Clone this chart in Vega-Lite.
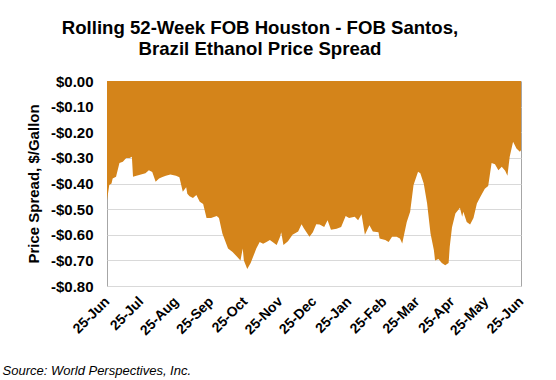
{
  "$schema": "https://vega.github.io/schema/vega-lite/v6.json",
  "width": 414,
  "height": 205,
  "autosize": {"type": "none"},
  "padding": {"left": 107, "top": 81, "right": 35, "bottom": 94},
  "background": "white",
  "title": {
    "text": ["Rolling 52-Week FOB Houston - FOB Santos,", "Brazil Ethanol Price Spread"],
    "font": "Liberation Sans",
    "fontSize": 18.6,
    "fontWeight": "bold",
    "color": "#000000",
    "anchor": "middle",
    "dx": -54,
    "lineHeight": 21,
    "offset": 15
  },
  "data": {
    "values": [
      {"date": "2019-06-25", "spread": -0.465},
      {"date": "2019-06-27", "spread": -0.406},
      {"date": "2019-06-29", "spread": -0.40},
      {"date": "2019-06-30", "spread": -0.38},
      {"date": "2019-07-03", "spread": -0.374},
      {"date": "2019-07-06", "spread": -0.32},
      {"date": "2019-07-09", "spread": -0.315},
      {"date": "2019-07-12", "spread": -0.30},
      {"date": "2019-07-15", "spread": -0.30},
      {"date": "2019-07-17", "spread": -0.296},
      {"date": "2019-07-18", "spread": -0.374},
      {"date": "2019-07-21", "spread": -0.37},
      {"date": "2019-07-25", "spread": -0.365},
      {"date": "2019-07-29", "spread": -0.36},
      {"date": "2019-08-01", "spread": -0.348},
      {"date": "2019-08-04", "spread": -0.355},
      {"date": "2019-08-07", "spread": -0.393},
      {"date": "2019-08-10", "spread": -0.38},
      {"date": "2019-08-13", "spread": -0.375},
      {"date": "2019-08-16", "spread": -0.37},
      {"date": "2019-08-20", "spread": -0.365},
      {"date": "2019-08-25", "spread": -0.37},
      {"date": "2019-08-28", "spread": -0.376},
      {"date": "2019-08-31", "spread": -0.432},
      {"date": "2019-09-03", "spread": -0.415},
      {"date": "2019-09-04", "spread": -0.44},
      {"date": "2019-09-06", "spread": -0.45},
      {"date": "2019-09-09", "spread": -0.457},
      {"date": "2019-09-12", "spread": -0.445},
      {"date": "2019-09-15", "spread": -0.471},
      {"date": "2019-09-18", "spread": -0.48},
      {"date": "2019-09-21", "spread": -0.535},
      {"date": "2019-09-25", "spread": -0.535},
      {"date": "2019-09-30", "spread": -0.527},
      {"date": "2019-10-02", "spread": -0.535},
      {"date": "2019-10-05", "spread": -0.595},
      {"date": "2019-10-10", "spread": -0.654},
      {"date": "2019-10-14", "spread": -0.667},
      {"date": "2019-10-18", "spread": -0.686},
      {"date": "2019-10-21", "spread": -0.70},
      {"date": "2019-10-23", "spread": -0.654},
      {"date": "2019-10-24", "spread": -0.70},
      {"date": "2019-10-27", "spread": -0.734},
      {"date": "2019-10-30", "spread": -0.71},
      {"date": "2019-11-04", "spread": -0.654},
      {"date": "2019-11-07", "spread": -0.628},
      {"date": "2019-11-10", "spread": -0.635},
      {"date": "2019-11-13", "spread": -0.628},
      {"date": "2019-11-16", "spread": -0.62},
      {"date": "2019-11-19", "spread": -0.63},
      {"date": "2019-11-22", "spread": -0.64},
      {"date": "2019-11-25", "spread": -0.608},
      {"date": "2019-11-26", "spread": -0.59},
      {"date": "2019-11-28", "spread": -0.64},
      {"date": "2019-12-02", "spread": -0.625},
      {"date": "2019-12-06", "spread": -0.60},
      {"date": "2019-12-11", "spread": -0.587},
      {"date": "2019-12-14", "spread": -0.559},
      {"date": "2019-12-16", "spread": -0.575},
      {"date": "2019-12-21", "spread": -0.608},
      {"date": "2019-12-24", "spread": -0.59},
      {"date": "2019-12-27", "spread": -0.559},
      {"date": "2019-12-30", "spread": -0.56},
      {"date": "2020-01-03", "spread": -0.57},
      {"date": "2020-01-06", "spread": -0.543},
      {"date": "2020-01-09", "spread": -0.58},
      {"date": "2020-01-14", "spread": -0.577},
      {"date": "2020-01-18", "spread": -0.57},
      {"date": "2020-01-22", "spread": -0.527},
      {"date": "2020-01-25", "spread": -0.535},
      {"date": "2020-01-30", "spread": -0.53},
      {"date": "2020-02-02", "spread": -0.543},
      {"date": "2020-02-05", "spread": -0.52},
      {"date": "2020-02-08", "spread": -0.60},
      {"date": "2020-02-12", "spread": -0.563},
      {"date": "2020-02-15", "spread": -0.587},
      {"date": "2020-02-20", "spread": -0.59},
      {"date": "2020-02-21", "spread": -0.615},
      {"date": "2020-02-26", "spread": -0.62},
      {"date": "2020-02-29", "spread": -0.628},
      {"date": "2020-03-03", "spread": -0.608},
      {"date": "2020-03-07", "spread": -0.608},
      {"date": "2020-03-10", "spread": -0.615},
      {"date": "2020-03-12", "spread": -0.634},
      {"date": "2020-03-16", "spread": -0.55},
      {"date": "2020-03-19", "spread": -0.51},
      {"date": "2020-03-22", "spread": -0.406},
      {"date": "2020-03-25", "spread": -0.367},
      {"date": "2020-03-26", "spread": -0.354},
      {"date": "2020-03-28", "spread": -0.36},
      {"date": "2020-03-31", "spread": -0.40},
      {"date": "2020-04-03", "spread": -0.478},
      {"date": "2020-04-06", "spread": -0.595},
      {"date": "2020-04-09", "spread": -0.66},
      {"date": "2020-04-10", "spread": -0.70},
      {"date": "2020-04-13", "spread": -0.695},
      {"date": "2020-04-16", "spread": -0.71},
      {"date": "2020-04-19", "spread": -0.719},
      {"date": "2020-04-22", "spread": -0.71},
      {"date": "2020-04-23", "spread": -0.647},
      {"date": "2020-04-25", "spread": -0.571},
      {"date": "2020-04-28", "spread": -0.517},
      {"date": "2020-05-01", "spread": -0.50},
      {"date": "2020-05-02", "spread": -0.495},
      {"date": "2020-05-04", "spread": -0.53},
      {"date": "2020-05-05", "spread": -0.51},
      {"date": "2020-05-08", "spread": -0.55},
      {"date": "2020-05-11", "spread": -0.56},
      {"date": "2020-05-14", "spread": -0.535},
      {"date": "2020-05-17", "spread": -0.478},
      {"date": "2020-05-20", "spread": -0.453},
      {"date": "2020-05-24", "spread": -0.42},
      {"date": "2020-05-27", "spread": -0.41},
      {"date": "2020-05-30", "spread": -0.32},
      {"date": "2020-06-02", "spread": -0.325},
      {"date": "2020-06-05", "spread": -0.348},
      {"date": "2020-06-08", "spread": -0.335},
      {"date": "2020-06-11", "spread": -0.35},
      {"date": "2020-06-13", "spread": -0.37},
      {"date": "2020-06-15", "spread": -0.296},
      {"date": "2020-06-18", "spread": -0.237},
      {"date": "2020-06-21", "spread": -0.263},
      {"date": "2020-06-24", "spread": -0.276},
      {"date": "2020-06-25", "spread": -0.27}
    ]
  },
  "mark": {"type": "area", "color": "#D4841A", "interpolate": "linear"},
  "encoding": {
    "x": {
      "field": "date",
      "type": "temporal",
      "scale": {
        "type": "utc",
        "domain": [{"year": 2019, "month": 6, "date": 25, "utc": true}, {"year": 2020, "month": 6, "date": 25, "utc": true}],
        "nice": false
      },
      "axis": {
        "values": [
          {"year": 2019, "month": 6, "date": 25, "utc": true},
          {"year": 2019, "month": 7, "date": 25, "utc": true},
          {"year": 2019, "month": 8, "date": 25, "utc": true},
          {"year": 2019, "month": 9, "date": 25, "utc": true},
          {"year": 2019, "month": 10, "date": 25, "utc": true},
          {"year": 2019, "month": 11, "date": 25, "utc": true},
          {"year": 2019, "month": 12, "date": 25, "utc": true},
          {"year": 2020, "month": 1, "date": 25, "utc": true},
          {"year": 2020, "month": 2, "date": 25, "utc": true},
          {"year": 2020, "month": 3, "date": 25, "utc": true},
          {"year": 2020, "month": 4, "date": 25, "utc": true},
          {"year": 2020, "month": 5, "date": 25, "utc": true},
          {"year": 2020, "month": 6, "date": 25, "utc": true}
        ],
        "format": "%d-%b",
        "labelAngle": -45,
        "labelAlign": "right",
        "labelBaseline": "middle",
        "labelFont": "Liberation Sans",
        "labelFontSize": 14,
        "labelFontWeight": "bold",
        "labelColor": "#000000",
        "labelPadding": 13,
        "labelOverlap": false,
        "labelBound": false,
        "labelFlush": false,
        "ticks": false,
        "domain": false,
        "grid": false,
        "title": "Source: World Perspectives, Inc.",
        "titleFont": "Liberation Sans",
        "titleFontSize": 13,
        "titleFontWeight": "normal",
        "titleFontStyle": "italic",
        "titleColor": "#000000",
        "titleAnchor": "start",
        "titleAlign": "left",
        "titleBaseline": "alphabetic",
        "titleX": -105,
        "titleY": 88
      }
    },
    "y": {
      "field": "spread",
      "type": "quantitative",
      "scale": {"domain": [-0.8, 0], "nice": false, "zero": true},
      "axis": {
        "values": [0, -0.1, -0.2, -0.3, -0.4, -0.5, -0.6, -0.7, -0.8],
        "labelExpr": "datum.value < 0 ? '-$' + format(-datum.value, '.2f') : '$' + format(datum.value, '.2f')",
        "labelFont": "Liberation Sans",
        "labelFontSize": 15,
        "labelFontWeight": "bold",
        "labelColor": "#000000",
        "labelPadding": 14,
        "ticks": false,
        "domain": false,
        "grid": true,
        "gridColor": "#d9d9d9",
        "gridWidth": 1,
        "title": "Price Spread, $/Gallon",
        "titleFont": "Liberation Sans",
        "titleFontSize": 15,
        "titleFontWeight": "bold",
        "titleColor": "#000000",
        "titlePadding": 9
      }
    }
  },
  "config": {
    "view": {"stroke": "#a6a6a6", "strokeWidth": 1}
  }
}
